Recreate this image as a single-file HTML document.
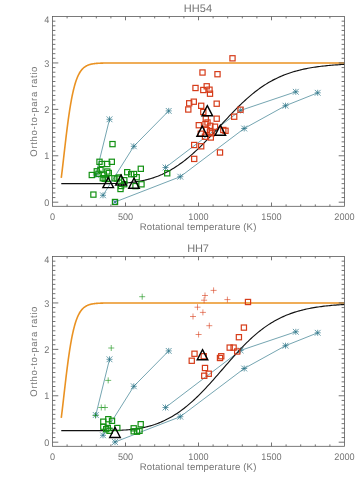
<!DOCTYPE html>
<html><head><meta charset="utf-8"><title>Ortho-to-para ratio</title>
<style>html,body{margin:0;padding:0;background:#fff}svg{display:block}svg{will-change:transform}text{text-rendering:geometricPrecision;font-family:"Liberation Sans",sans-serif;fill:#747474}</style>
</head><body>
<svg width="360" height="480" viewBox="0 0 360 480">
<rect width="360" height="480" fill="#fff"/>
<polyline fill="none" stroke="#ea9222" stroke-width="1.6" stroke-linejoin="round" points="61.26,177.94 61.55,175.61 61.84,173.23 62.14,170.81 62.43,168.35 62.72,165.85 63.01,163.34 63.30,160.80 63.60,158.25 63.89,155.70 64.18,153.14 64.47,150.59 64.76,148.05 65.06,145.53 65.35,143.02 65.64,140.54 65.93,138.08 66.22,135.65 66.52,133.25 66.81,130.89 67.10,128.57 67.39,126.29 67.68,124.06 67.98,121.86 68.27,119.72 68.56,117.62 68.85,115.57 69.14,113.57 69.44,111.63 69.73,109.73 70.02,107.89 70.31,106.10 70.60,104.36 70.90,102.67 71.19,101.04 71.48,99.45 71.77,97.92 72.06,96.44 72.36,95.01 72.65,93.63 72.94,92.30 73.23,91.01 73.52,89.78 73.82,88.59 74.11,87.44 74.40,86.34 74.69,85.28 74.98,84.26 75.28,83.29 75.57,82.35 75.86,81.45 76.15,80.59 76.44,79.76 76.74,78.97 77.03,78.22 77.32,77.49 77.61,76.80 77.90,76.14 78.20,75.50 78.49,74.90 78.78,74.32 79.07,73.77 79.36,73.24 79.66,72.74 79.95,72.26 80.24,71.80 80.53,71.36 80.82,70.95 81.12,70.55 81.41,70.17 81.70,69.81 81.99,69.47 82.28,69.14 82.58,68.83 82.87,68.54 83.16,68.26 83.45,67.99 83.74,67.73 84.04,67.49 84.33,67.26 84.62,67.04 84.91,66.83 85.20,66.63 85.50,66.44 85.79,66.27 86.08,66.10 86.37,65.93 86.66,65.78 86.96,65.63 87.25,65.50 87.54,65.36 87.83,65.24 88.12,65.12 88.42,65.01 88.71,64.90 89.00,64.80 89.29,64.70 89.58,64.61 89.88,64.52 90.17,64.44 90.46,64.36 90.75,64.29 91.04,64.22 91.34,64.15 91.63,64.09 91.92,64.03 92.21,63.97 92.50,63.92 92.80,63.87 93.09,63.82 93.38,63.77 93.67,63.73 93.96,63.69 94.26,63.65 94.55,63.61 94.84,63.58 95.13,63.54 95.42,63.51 95.72,63.48 96.01,63.45 96.30,63.42 96.59,63.40 96.88,63.37 97.18,63.35 97.47,63.33 97.76,63.31 98.05,63.29 98.34,63.27 98.64,63.25 98.93,63.24 99.22,63.22 99.51,63.21 99.80,63.19 100.10,63.18 100.39,63.17 100.68,63.15 100.97,63.14 101.26,63.13 101.56,63.12 101.85,63.11 102.14,63.10 102.43,63.09 102.72,63.09 103.02,63.08 103.31,63.07 103.60,63.06 103.89,63.06 104.18,63.05 104.48,63.05 104.77,63.04 105.06,63.03 105.35,63.03 105.64,63.02 105.94,63.02 106.23,63.02 106.52,63.01 106.81,63.01 107.10,63.00 107.40,63.00 107.69,63.00 107.98,62.99 108.27,62.99 108.56,62.99 108.86,62.99 109.15,62.98 109.44,62.98 109.73,62.98 110.02,62.98 110.32,62.97 110.61,62.97 110.90,62.97 113.82,62.96 116.74,62.95 119.66,62.95 122.58,62.94 125.50,62.94 128.42,62.94 131.34,62.94 134.26,62.94 137.18,62.94 140.10,62.94 143.02,62.94 145.94,62.94 148.86,62.94 151.78,62.94 154.70,62.94 157.62,62.94 160.54,62.94 163.46,62.94 166.38,62.94 169.30,62.94 172.22,62.94 175.14,62.94 178.06,62.94 180.98,62.94 183.90,62.94 186.82,62.94 189.74,62.94 192.66,62.94 195.58,62.94 198.50,62.94 201.42,62.94 204.34,62.94 207.26,62.94 210.18,62.94 213.10,62.94 216.02,62.94 218.94,62.94 221.86,62.94 224.78,62.94 227.70,62.94 230.62,62.94 233.54,62.94 236.46,62.94 239.38,62.94 242.30,62.94 245.22,62.94 248.14,62.94 251.06,62.94 253.98,62.94 256.90,62.94 259.82,62.94 262.74,62.94 265.66,62.94 268.58,62.94 271.50,62.94 274.42,62.94 277.34,62.94 280.26,62.94 283.18,62.94 286.10,62.94 289.02,62.94 291.94,62.94 294.86,62.94 297.78,62.94 300.70,62.94 303.62,62.94 306.54,62.94 309.46,62.94 312.38,62.94 315.30,62.94 318.22,62.94 321.14,62.94 324.06,62.94 326.98,62.94 329.90,62.94 332.82,62.94 335.74,62.94 338.66,62.94 341.58,62.94 344.50,62.94 344.50,62.94"/>
<polyline fill="none" stroke="#2a7486" stroke-width="0.65" points="95.80,175.00 109.50,119.30"/>
<polyline fill="none" stroke="#2a7486" stroke-width="0.65" points="103.00,195.30 133.80,146.30"/>
<polyline fill="none" stroke="#2a7486" stroke-width="0.65" points="133.80,146.30 168.70,110.90"/>
<polyline fill="none" stroke="#2a7486" stroke-width="0.65" points="115.00,202.00 180.30,176.70"/>
<polyline fill="none" stroke="#2a7486" stroke-width="0.65" points="180.30,176.70 244.20,128.50"/>
<polyline fill="none" stroke="#2a7486" stroke-width="0.65" points="244.20,128.50 285.50,105.70"/>
<polyline fill="none" stroke="#2a7486" stroke-width="0.65" points="285.50,105.70 317.70,92.80"/>
<polyline fill="none" stroke="#2a7486" stroke-width="0.65" points="165.50,167.50 240.60,110.40"/>
<polyline fill="none" stroke="#2a7486" stroke-width="0.65" points="240.60,110.40 295.80,91.80"/>
<path stroke="#2a7486" stroke-width="0.7" fill="none" d="M92.80 175.00H98.80M95.80 172.00V178.00M92.90 172.10L98.70 177.90M92.90 177.90L98.70 172.10"/>
<path stroke="#2a7486" stroke-width="0.7" fill="none" d="M100.00 195.30H106.00M103.00 192.30V198.30M100.10 192.40L105.90 198.20M100.10 198.20L105.90 192.40"/>
<path stroke="#2a7486" stroke-width="0.7" fill="none" d="M106.50 119.30H112.50M109.50 116.30V122.30M106.60 116.40L112.40 122.20M106.60 122.20L112.40 116.40"/>
<path stroke="#2a7486" stroke-width="0.7" fill="none" d="M112.00 202.00H118.00M115.00 199.00V205.00M112.10 199.10L117.90 204.90M112.10 204.90L117.90 199.10"/>
<path stroke="#2a7486" stroke-width="0.7" fill="none" d="M130.80 146.30H136.80M133.80 143.30V149.30M130.90 143.40L136.70 149.20M130.90 149.20L136.70 143.40"/>
<path stroke="#2a7486" stroke-width="0.7" fill="none" d="M162.50 167.50H168.50M165.50 164.50V170.50M162.60 164.60L168.40 170.40M162.60 170.40L168.40 164.60"/>
<path stroke="#2a7486" stroke-width="0.7" fill="none" d="M165.70 110.90H171.70M168.70 107.90V113.90M165.80 108.00L171.60 113.80M165.80 113.80L171.60 108.00"/>
<path stroke="#2a7486" stroke-width="0.7" fill="none" d="M177.30 176.70H183.30M180.30 173.70V179.70M177.40 173.80L183.20 179.60M177.40 179.60L183.20 173.80"/>
<path stroke="#2a7486" stroke-width="0.7" fill="none" d="M237.60 110.40H243.60M240.60 107.40V113.40M237.70 107.50L243.50 113.30M237.70 113.30L243.50 107.50"/>
<path stroke="#2a7486" stroke-width="0.7" fill="none" d="M241.20 128.50H247.20M244.20 125.50V131.50M241.30 125.60L247.10 131.40M241.30 131.40L247.10 125.60"/>
<path stroke="#2a7486" stroke-width="0.7" fill="none" d="M282.50 105.70H288.50M285.50 102.70V108.70M282.60 102.80L288.40 108.60M282.60 108.60L288.40 102.80"/>
<path stroke="#2a7486" stroke-width="0.7" fill="none" d="M292.80 91.80H298.80M295.80 88.80V94.80M292.90 88.90L298.70 94.70M292.90 94.70L298.70 88.90"/>
<path stroke="#2a7486" stroke-width="0.7" fill="none" d="M314.70 92.80H320.70M317.70 89.80V95.80M314.80 89.90L320.60 95.70M314.80 95.70L320.60 89.90"/>
<polyline fill="none" stroke="#111" stroke-width="1.15" stroke-linejoin="round" points="61.26,183.63 62.72,183.63 64.18,183.63 65.64,183.63 67.10,183.63 68.56,183.63 70.02,183.63 71.48,183.63 72.94,183.63 74.40,183.63 75.86,183.63 77.32,183.63 78.78,183.63 80.24,183.63 81.70,183.63 83.16,183.63 84.62,183.63 86.08,183.63 87.54,183.63 89.00,183.63 90.46,183.63 91.92,183.63 93.38,183.63 94.84,183.63 96.30,183.63 97.76,183.63 99.22,183.62 100.68,183.62 102.14,183.62 103.60,183.61 105.06,183.60 106.52,183.59 107.98,183.58 109.44,183.56 110.90,183.54 112.36,183.51 113.82,183.48 115.28,183.45 116.74,183.40 118.20,183.35 119.66,183.29 121.12,183.23 122.58,183.15 124.04,183.06 125.50,182.97 126.96,182.86 128.42,182.73 129.88,182.59 131.34,182.44 132.80,182.27 134.26,182.09 135.72,181.89 137.18,181.67 138.64,181.43 140.10,181.17 141.56,180.89 143.02,180.59 144.48,180.27 145.94,179.93 147.40,179.56 148.86,179.16 150.32,178.74 151.78,178.30 153.24,177.83 154.70,177.33 156.16,176.81 157.62,176.26 159.08,175.67 160.54,175.06 162.00,174.43 163.46,173.76 164.92,173.06 166.38,172.33 167.84,171.57 169.30,170.77 170.76,169.95 172.22,169.10 173.68,168.21 175.14,167.29 176.60,166.34 178.06,165.36 179.52,164.34 180.98,163.30 182.44,162.22 183.90,161.12 185.36,159.98 186.82,158.81 188.28,157.61 189.74,156.39 191.20,155.13 192.66,153.85 194.12,152.54 195.58,151.20 197.04,149.84 198.50,148.45 199.96,147.04 201.42,145.61 202.88,144.15 204.34,142.68 205.80,141.19 207.26,139.69 208.72,138.16 210.18,136.63 211.64,135.08 213.10,133.52 214.56,131.96 216.02,130.38 217.48,128.80 218.94,127.22 220.40,125.64 221.86,124.06 223.32,122.48 224.78,120.90 226.24,119.33 227.70,117.77 229.16,116.21 230.62,114.67 232.08,113.14 233.54,111.63 235.00,110.13 236.46,108.65 237.92,107.19 239.38,105.75 240.84,104.33 242.30,102.93 243.76,101.56 245.22,100.21 246.68,98.89 248.14,97.60 249.60,96.33 251.06,95.09 252.52,93.89 253.98,92.71 255.44,91.56 256.90,90.44 258.36,89.35 259.82,88.29 261.28,87.26 262.74,86.27 264.20,85.30 265.66,84.36 267.12,83.46 268.58,82.58 270.04,81.73 271.50,80.92 272.96,80.13 274.42,79.37 275.88,78.64 277.34,77.93 278.80,77.25 280.26,76.60 281.72,75.97 283.18,75.37 284.64,74.80 286.10,74.24 287.56,73.71 289.02,73.20 290.48,72.71 291.94,72.25 293.40,71.80 294.86,71.37 296.32,70.96 297.78,70.57 299.24,70.20 300.70,69.85 302.16,69.51 303.62,69.18 305.08,68.87 306.54,68.58 308.00,68.30 309.46,68.03 310.92,67.78 312.38,67.53 313.84,67.30 315.30,67.08 316.76,66.87 318.22,66.67 319.68,66.48 321.14,66.30 322.60,66.13 324.06,65.97 325.52,65.82 326.98,65.67 328.44,65.53 329.90,65.40 331.36,65.27 332.82,65.15 334.28,65.04 335.74,64.93 337.20,64.83 338.66,64.73 340.12,64.64 341.58,64.55 343.04,64.47 344.50,64.39 344.50,64.39"/>
<rect x="109.90" y="141.50" width="5.2" height="5.2" fill="none" stroke="#139113" stroke-width="1.2"/>
<rect x="96.90" y="159.20" width="5.2" height="5.2" fill="none" stroke="#139113" stroke-width="1.2"/>
<rect x="109.20" y="159.20" width="5.2" height="5.2" fill="none" stroke="#139113" stroke-width="1.2"/>
<rect x="99.20" y="161.40" width="5.2" height="5.2" fill="none" stroke="#139113" stroke-width="1.2"/>
<rect x="104.60" y="161.40" width="5.2" height="5.2" fill="none" stroke="#139113" stroke-width="1.2"/>
<rect x="138.20" y="166.20" width="5.2" height="5.2" fill="none" stroke="#139113" stroke-width="1.2"/>
<rect x="89.20" y="172.40" width="5.2" height="5.2" fill="none" stroke="#139113" stroke-width="1.2"/>
<rect x="90.80" y="192.00" width="5.2" height="5.2" fill="none" stroke="#139113" stroke-width="1.2"/>
<rect x="112.40" y="199.40" width="5.2" height="5.2" fill="none" stroke="#139113" stroke-width="1.2"/>
<rect x="94.20" y="168.70" width="5.2" height="5.2" fill="none" stroke="#139113" stroke-width="1.2"/>
<rect x="97.90" y="167.40" width="5.2" height="5.2" fill="none" stroke="#139113" stroke-width="1.2"/>
<rect x="104.70" y="168.90" width="5.2" height="5.2" fill="none" stroke="#139113" stroke-width="1.2"/>
<rect x="106.20" y="170.40" width="5.2" height="5.2" fill="none" stroke="#139113" stroke-width="1.2"/>
<rect x="95.80" y="171.20" width="5.2" height="5.2" fill="none" stroke="#139113" stroke-width="1.2"/>
<rect x="101.20" y="172.00" width="5.2" height="5.2" fill="none" stroke="#139113" stroke-width="1.2"/>
<rect x="102.10" y="176.20" width="5.2" height="5.2" fill="none" stroke="#139113" stroke-width="1.2"/>
<rect x="111.90" y="175.70" width="5.2" height="5.2" fill="none" stroke="#139113" stroke-width="1.2"/>
<rect x="116.20" y="174.90" width="5.2" height="5.2" fill="none" stroke="#139113" stroke-width="1.2"/>
<rect x="121.70" y="177.60" width="5.2" height="5.2" fill="none" stroke="#139113" stroke-width="1.2"/>
<rect x="124.60" y="169.60" width="5.2" height="5.2" fill="none" stroke="#139113" stroke-width="1.2"/>
<rect x="128.60" y="171.60" width="5.2" height="5.2" fill="none" stroke="#139113" stroke-width="1.2"/>
<rect x="131.40" y="171.40" width="5.2" height="5.2" fill="none" stroke="#139113" stroke-width="1.2"/>
<rect x="134.10" y="174.60" width="5.2" height="5.2" fill="none" stroke="#139113" stroke-width="1.2"/>
<rect x="138.90" y="181.70" width="5.2" height="5.2" fill="none" stroke="#139113" stroke-width="1.2"/>
<rect x="132.90" y="183.50" width="5.2" height="5.2" fill="none" stroke="#139113" stroke-width="1.2"/>
<rect x="118.50" y="183.40" width="5.2" height="5.2" fill="none" stroke="#139113" stroke-width="1.2"/>
<rect x="117.90" y="186.40" width="5.2" height="5.2" fill="none" stroke="#139113" stroke-width="1.2"/>
<rect x="164.60" y="170.70" width="5.2" height="5.2" fill="none" stroke="#139113" stroke-width="1.2"/>
<rect x="100.20" y="175.60" width="5.2" height="5.2" fill="none" stroke="#139113" stroke-width="1.2"/>
<rect x="104.00" y="176.40" width="5.2" height="5.2" fill="none" stroke="#139113" stroke-width="1.2"/>
<rect x="121.60" y="181.60" width="5.2" height="5.2" fill="none" stroke="#139113" stroke-width="1.2"/>
<rect x="114.20" y="176.00" width="5.2" height="5.2" fill="none" stroke="#139113" stroke-width="1.2"/>
<rect x="229.90" y="55.70" width="5.2" height="5.2" fill="none" stroke="#d63c1a" stroke-width="1.2"/>
<rect x="199.90" y="69.90" width="5.2" height="5.2" fill="none" stroke="#d63c1a" stroke-width="1.2"/>
<rect x="214.90" y="71.60" width="5.2" height="5.2" fill="none" stroke="#d63c1a" stroke-width="1.2"/>
<rect x="192.90" y="85.40" width="5.2" height="5.2" fill="none" stroke="#d63c1a" stroke-width="1.2"/>
<rect x="204.10" y="83.70" width="5.2" height="5.2" fill="none" stroke="#d63c1a" stroke-width="1.2"/>
<rect x="200.70" y="87.40" width="5.2" height="5.2" fill="none" stroke="#d63c1a" stroke-width="1.2"/>
<rect x="206.90" y="87.10" width="5.2" height="5.2" fill="none" stroke="#d63c1a" stroke-width="1.2"/>
<rect x="207.40" y="91.10" width="5.2" height="5.2" fill="none" stroke="#d63c1a" stroke-width="1.2"/>
<rect x="186.60" y="100.70" width="5.2" height="5.2" fill="none" stroke="#d63c1a" stroke-width="1.2"/>
<rect x="191.20" y="99.10" width="5.2" height="5.2" fill="none" stroke="#d63c1a" stroke-width="1.2"/>
<rect x="214.10" y="101.10" width="5.2" height="5.2" fill="none" stroke="#d63c1a" stroke-width="1.2"/>
<rect x="198.60" y="103.20" width="5.2" height="5.2" fill="none" stroke="#d63c1a" stroke-width="1.2"/>
<rect x="185.70" y="106.90" width="5.2" height="5.2" fill="none" stroke="#d63c1a" stroke-width="1.2"/>
<rect x="200.70" y="109.40" width="5.2" height="5.2" fill="none" stroke="#d63c1a" stroke-width="1.2"/>
<rect x="203.20" y="116.10" width="5.2" height="5.2" fill="none" stroke="#d63c1a" stroke-width="1.2"/>
<rect x="214.10" y="116.10" width="5.2" height="5.2" fill="none" stroke="#d63c1a" stroke-width="1.2"/>
<rect x="231.60" y="114.10" width="5.2" height="5.2" fill="none" stroke="#d63c1a" stroke-width="1.2"/>
<rect x="237.90" y="107.10" width="5.2" height="5.2" fill="none" stroke="#d63c1a" stroke-width="1.2"/>
<rect x="196.20" y="122.60" width="5.2" height="5.2" fill="none" stroke="#d63c1a" stroke-width="1.2"/>
<rect x="202.90" y="121.60" width="5.2" height="5.2" fill="none" stroke="#d63c1a" stroke-width="1.2"/>
<rect x="204.90" y="119.90" width="5.2" height="5.2" fill="none" stroke="#d63c1a" stroke-width="1.2"/>
<rect x="207.80" y="123.20" width="5.2" height="5.2" fill="none" stroke="#d63c1a" stroke-width="1.2"/>
<rect x="212.40" y="124.10" width="5.2" height="5.2" fill="none" stroke="#d63c1a" stroke-width="1.2"/>
<rect x="220.70" y="127.40" width="5.2" height="5.2" fill="none" stroke="#d63c1a" stroke-width="1.2"/>
<rect x="222.90" y="128.20" width="5.2" height="5.2" fill="none" stroke="#d63c1a" stroke-width="1.2"/>
<rect x="204.10" y="127.40" width="5.2" height="5.2" fill="none" stroke="#d63c1a" stroke-width="1.2"/>
<rect x="207.40" y="129.10" width="5.2" height="5.2" fill="none" stroke="#d63c1a" stroke-width="1.2"/>
<rect x="198.20" y="131.10" width="5.2" height="5.2" fill="none" stroke="#d63c1a" stroke-width="1.2"/>
<rect x="209.10" y="130.70" width="5.2" height="5.2" fill="none" stroke="#d63c1a" stroke-width="1.2"/>
<rect x="202.40" y="134.10" width="5.2" height="5.2" fill="none" stroke="#d63c1a" stroke-width="1.2"/>
<rect x="208.20" y="134.90" width="5.2" height="5.2" fill="none" stroke="#d63c1a" stroke-width="1.2"/>
<rect x="191.60" y="142.40" width="5.2" height="5.2" fill="none" stroke="#d63c1a" stroke-width="1.2"/>
<rect x="198.60" y="143.70" width="5.2" height="5.2" fill="none" stroke="#d63c1a" stroke-width="1.2"/>
<rect x="217.40" y="149.90" width="5.2" height="5.2" fill="none" stroke="#d63c1a" stroke-width="1.2"/>
<rect x="191.60" y="156.30" width="5.2" height="5.2" fill="none" stroke="#d63c1a" stroke-width="1.2"/>
<path d="M108.20 177.50L113.50 187.60L102.90 187.60Z" fill="none" stroke="#000" stroke-width="1.4" stroke-linejoin="miter"/>
<path d="M121.00 174.90L126.30 185.00L115.70 185.00Z" fill="none" stroke="#000" stroke-width="1.4" stroke-linejoin="miter"/>
<path d="M134.00 178.20L139.30 188.30L128.70 188.30Z" fill="none" stroke="#000" stroke-width="1.4" stroke-linejoin="miter"/>
<path d="M207.30 105.70L212.60 115.80L202.00 115.80Z" fill="none" stroke="#000" stroke-width="1.4" stroke-linejoin="miter"/>
<path d="M202.20 126.10L207.50 136.20L196.90 136.20Z" fill="none" stroke="#000" stroke-width="1.4" stroke-linejoin="miter"/>
<path d="M220.30 125.20L225.60 135.30L215.00 135.30Z" fill="none" stroke="#000" stroke-width="1.4" stroke-linejoin="miter"/>
<path d="M67.10 16.50v1.90M67.10 206.30v-1.90M81.70 16.50v1.90M81.70 206.30v-1.90M96.30 16.50v1.90M96.30 206.30v-1.90M110.90 16.50v1.90M110.90 206.30v-1.90M125.50 16.50v3.80M125.50 206.30v-3.80M140.10 16.50v1.90M140.10 206.30v-1.90M154.70 16.50v1.90M154.70 206.30v-1.90M169.30 16.50v1.90M169.30 206.30v-1.90M183.90 16.50v1.90M183.90 206.30v-1.90M198.50 16.50v3.80M198.50 206.30v-3.80M213.10 16.50v1.90M213.10 206.30v-1.90M227.70 16.50v1.90M227.70 206.30v-1.90M242.30 16.50v1.90M242.30 206.30v-1.90M256.90 16.50v1.90M256.90 206.30v-1.90M271.50 16.50v3.80M271.50 206.30v-3.80M286.10 16.50v1.90M286.10 206.30v-1.90M300.70 16.50v1.90M300.70 206.30v-1.90M315.30 16.50v1.90M315.30 206.30v-1.90M329.90 16.50v1.90M329.90 206.30v-1.90M52.50 202.20h5.80M344.50 202.20h-5.80M52.50 197.56h2.90M344.50 197.56h-2.90M52.50 192.92h2.90M344.50 192.92h-2.90M52.50 188.27h2.90M344.50 188.27h-2.90M52.50 183.63h2.90M344.50 183.63h-2.90M52.50 178.99h2.90M344.50 178.99h-2.90M52.50 174.35h2.90M344.50 174.35h-2.90M52.50 169.71h2.90M344.50 169.71h-2.90M52.50 165.06h2.90M344.50 165.06h-2.90M52.50 160.42h2.90M344.50 160.42h-2.90M52.50 155.78h5.80M344.50 155.78h-5.80M52.50 151.14h2.90M344.50 151.14h-2.90M52.50 146.50h2.90M344.50 146.50h-2.90M52.50 141.85h2.90M344.50 141.85h-2.90M52.50 137.21h2.90M344.50 137.21h-2.90M52.50 132.57h2.90M344.50 132.57h-2.90M52.50 127.93h2.90M344.50 127.93h-2.90M52.50 123.29h2.90M344.50 123.29h-2.90M52.50 118.64h2.90M344.50 118.64h-2.90M52.50 114.00h2.90M344.50 114.00h-2.90M52.50 109.36h5.80M344.50 109.36h-5.80M52.50 104.72h2.90M344.50 104.72h-2.90M52.50 100.08h2.90M344.50 100.08h-2.90M52.50 95.43h2.90M344.50 95.43h-2.90M52.50 90.79h2.90M344.50 90.79h-2.90M52.50 86.15h2.90M344.50 86.15h-2.90M52.50 81.51h2.90M344.50 81.51h-2.90M52.50 76.87h2.90M344.50 76.87h-2.90M52.50 72.22h2.90M344.50 72.22h-2.90M52.50 67.58h2.90M344.50 67.58h-2.90M52.50 62.94h5.80M344.50 62.94h-5.80M52.50 58.30h2.90M344.50 58.30h-2.90M52.50 53.66h2.90M344.50 53.66h-2.90M52.50 49.01h2.90M344.50 49.01h-2.90M52.50 44.37h2.90M344.50 44.37h-2.90M52.50 39.73h2.90M344.50 39.73h-2.90M52.50 35.09h2.90M344.50 35.09h-2.90M52.50 30.45h2.90M344.50 30.45h-2.90M52.50 25.80h2.90M344.50 25.80h-2.90M52.50 21.16h2.90M344.50 21.16h-2.90" stroke="#505050" stroke-width="0.8" fill="none"/>
<rect x="52.50" y="16.50" width="292.00" height="189.80" fill="none" stroke="#5a5a5a" stroke-width="0.8"/>
<text x="198" y="12.0" font-size="11" text-anchor="middle" textLength="28.4" lengthAdjust="spacing">HH54</text>
<text transform="translate(52.5 219.7) scale(0.96 1)" font-size="9.5" text-anchor="middle">0</text>
<text transform="translate(125.5 219.7) scale(0.96 1)" font-size="9.5" text-anchor="middle">500</text>
<text transform="translate(198.5 219.7) scale(0.96 1)" font-size="9.5" text-anchor="middle">1000</text>
<text transform="translate(271.5 219.7) scale(0.96 1)" font-size="9.5" text-anchor="middle">1500</text>
<text transform="translate(344.5 219.7) scale(0.96 1)" font-size="9.5" text-anchor="middle">2000</text>
<text transform="translate(49.4 205.8) scale(0.96 1)" font-size="9.5" text-anchor="end">0</text>
<text transform="translate(49.4 159.4) scale(0.96 1)" font-size="9.5" text-anchor="end">1</text>
<text transform="translate(49.4 113.0) scale(0.96 1)" font-size="9.5" text-anchor="end">2</text>
<text transform="translate(49.4 66.5) scale(0.96 1)" font-size="9.5" text-anchor="end">3</text>
<text transform="translate(49.4 23.4) scale(0.96 1)" font-size="9.5" text-anchor="end">4</text>
<text x="198" y="230.2" font-size="9.6" text-anchor="middle" textLength="116.7" lengthAdjust="spacing">Rotational temperature (K)</text>
<text transform="translate(36.7 111.7) rotate(-90)" font-size="9.6" text-anchor="middle" textLength="90" lengthAdjust="spacing">Ortho-to-para ratio</text>
<polyline fill="none" stroke="#ea9222" stroke-width="1.6" stroke-linejoin="round" points="61.26,417.94 61.55,415.61 61.84,413.23 62.14,410.81 62.43,408.35 62.72,405.85 63.01,403.34 63.30,400.80 63.60,398.25 63.89,395.70 64.18,393.14 64.47,390.59 64.76,388.05 65.06,385.53 65.35,383.02 65.64,380.54 65.93,378.08 66.22,375.65 66.52,373.25 66.81,370.89 67.10,368.57 67.39,366.29 67.68,364.06 67.98,361.86 68.27,359.72 68.56,357.62 68.85,355.57 69.14,353.57 69.44,351.63 69.73,349.73 70.02,347.89 70.31,346.10 70.60,344.36 70.90,342.67 71.19,341.04 71.48,339.45 71.77,337.92 72.06,336.44 72.36,335.01 72.65,333.63 72.94,332.30 73.23,331.01 73.52,329.78 73.82,328.59 74.11,327.44 74.40,326.34 74.69,325.28 74.98,324.26 75.28,323.29 75.57,322.35 75.86,321.45 76.15,320.59 76.44,319.76 76.74,318.97 77.03,318.22 77.32,317.49 77.61,316.80 77.90,316.14 78.20,315.50 78.49,314.90 78.78,314.32 79.07,313.77 79.36,313.24 79.66,312.74 79.95,312.26 80.24,311.80 80.53,311.36 80.82,310.95 81.12,310.55 81.41,310.17 81.70,309.81 81.99,309.47 82.28,309.14 82.58,308.83 82.87,308.54 83.16,308.26 83.45,307.99 83.74,307.73 84.04,307.49 84.33,307.26 84.62,307.04 84.91,306.83 85.20,306.63 85.50,306.44 85.79,306.27 86.08,306.10 86.37,305.93 86.66,305.78 86.96,305.63 87.25,305.50 87.54,305.36 87.83,305.24 88.12,305.12 88.42,305.01 88.71,304.90 89.00,304.80 89.29,304.70 89.58,304.61 89.88,304.52 90.17,304.44 90.46,304.36 90.75,304.29 91.04,304.22 91.34,304.15 91.63,304.09 91.92,304.03 92.21,303.97 92.50,303.92 92.80,303.87 93.09,303.82 93.38,303.77 93.67,303.73 93.96,303.69 94.26,303.65 94.55,303.61 94.84,303.58 95.13,303.54 95.42,303.51 95.72,303.48 96.01,303.45 96.30,303.42 96.59,303.40 96.88,303.37 97.18,303.35 97.47,303.33 97.76,303.31 98.05,303.29 98.34,303.27 98.64,303.25 98.93,303.24 99.22,303.22 99.51,303.21 99.80,303.19 100.10,303.18 100.39,303.17 100.68,303.15 100.97,303.14 101.26,303.13 101.56,303.12 101.85,303.11 102.14,303.10 102.43,303.09 102.72,303.09 103.02,303.08 103.31,303.07 103.60,303.06 103.89,303.06 104.18,303.05 104.48,303.05 104.77,303.04 105.06,303.03 105.35,303.03 105.64,303.02 105.94,303.02 106.23,303.02 106.52,303.01 106.81,303.01 107.10,303.00 107.40,303.00 107.69,303.00 107.98,302.99 108.27,302.99 108.56,302.99 108.86,302.99 109.15,302.98 109.44,302.98 109.73,302.98 110.02,302.98 110.32,302.97 110.61,302.97 110.90,302.97 113.82,302.96 116.74,302.95 119.66,302.95 122.58,302.94 125.50,302.94 128.42,302.94 131.34,302.94 134.26,302.94 137.18,302.94 140.10,302.94 143.02,302.94 145.94,302.94 148.86,302.94 151.78,302.94 154.70,302.94 157.62,302.94 160.54,302.94 163.46,302.94 166.38,302.94 169.30,302.94 172.22,302.94 175.14,302.94 178.06,302.94 180.98,302.94 183.90,302.94 186.82,302.94 189.74,302.94 192.66,302.94 195.58,302.94 198.50,302.94 201.42,302.94 204.34,302.94 207.26,302.94 210.18,302.94 213.10,302.94 216.02,302.94 218.94,302.94 221.86,302.94 224.78,302.94 227.70,302.94 230.62,302.94 233.54,302.94 236.46,302.94 239.38,302.94 242.30,302.94 245.22,302.94 248.14,302.94 251.06,302.94 253.98,302.94 256.90,302.94 259.82,302.94 262.74,302.94 265.66,302.94 268.58,302.94 271.50,302.94 274.42,302.94 277.34,302.94 280.26,302.94 283.18,302.94 286.10,302.94 289.02,302.94 291.94,302.94 294.86,302.94 297.78,302.94 300.70,302.94 303.62,302.94 306.54,302.94 309.46,302.94 312.38,302.94 315.30,302.94 318.22,302.94 321.14,302.94 324.06,302.94 326.98,302.94 329.90,302.94 332.82,302.94 335.74,302.94 338.66,302.94 341.58,302.94 344.50,302.94 344.50,302.94"/>
<polyline fill="none" stroke="#2a7486" stroke-width="0.65" points="95.80,415.00 109.50,359.30"/>
<polyline fill="none" stroke="#2a7486" stroke-width="0.65" points="103.00,435.30 133.80,386.30"/>
<polyline fill="none" stroke="#2a7486" stroke-width="0.65" points="133.80,386.30 168.70,350.90"/>
<polyline fill="none" stroke="#2a7486" stroke-width="0.65" points="115.00,442.00 180.30,416.70"/>
<polyline fill="none" stroke="#2a7486" stroke-width="0.65" points="180.30,416.70 244.20,368.50"/>
<polyline fill="none" stroke="#2a7486" stroke-width="0.65" points="244.20,368.50 285.50,345.70"/>
<polyline fill="none" stroke="#2a7486" stroke-width="0.65" points="285.50,345.70 317.70,332.80"/>
<polyline fill="none" stroke="#2a7486" stroke-width="0.65" points="165.50,407.50 240.60,350.40"/>
<polyline fill="none" stroke="#2a7486" stroke-width="0.65" points="240.60,350.40 295.80,331.80"/>
<path stroke="#2a7486" stroke-width="0.7" fill="none" d="M92.80 415.00H98.80M95.80 412.00V418.00M92.90 412.10L98.70 417.90M92.90 417.90L98.70 412.10"/>
<path stroke="#2a7486" stroke-width="0.7" fill="none" d="M100.00 435.30H106.00M103.00 432.30V438.30M100.10 432.40L105.90 438.20M100.10 438.20L105.90 432.40"/>
<path stroke="#2a7486" stroke-width="0.7" fill="none" d="M106.50 359.30H112.50M109.50 356.30V362.30M106.60 356.40L112.40 362.20M106.60 362.20L112.40 356.40"/>
<path stroke="#2a7486" stroke-width="0.7" fill="none" d="M112.00 442.00H118.00M115.00 439.00V445.00M112.10 439.10L117.90 444.90M112.10 444.90L117.90 439.10"/>
<path stroke="#2a7486" stroke-width="0.7" fill="none" d="M130.80 386.30H136.80M133.80 383.30V389.30M130.90 383.40L136.70 389.20M130.90 389.20L136.70 383.40"/>
<path stroke="#2a7486" stroke-width="0.7" fill="none" d="M162.50 407.50H168.50M165.50 404.50V410.50M162.60 404.60L168.40 410.40M162.60 410.40L168.40 404.60"/>
<path stroke="#2a7486" stroke-width="0.7" fill="none" d="M165.70 350.90H171.70M168.70 347.90V353.90M165.80 348.00L171.60 353.80M165.80 353.80L171.60 348.00"/>
<path stroke="#2a7486" stroke-width="0.7" fill="none" d="M177.30 416.70H183.30M180.30 413.70V419.70M177.40 413.80L183.20 419.60M177.40 419.60L183.20 413.80"/>
<path stroke="#2a7486" stroke-width="0.7" fill="none" d="M237.60 350.40H243.60M240.60 347.40V353.40M237.70 347.50L243.50 353.30M237.70 353.30L243.50 347.50"/>
<path stroke="#2a7486" stroke-width="0.7" fill="none" d="M241.20 368.50H247.20M244.20 365.50V371.50M241.30 365.60L247.10 371.40M241.30 371.40L247.10 365.60"/>
<path stroke="#2a7486" stroke-width="0.7" fill="none" d="M282.50 345.70H288.50M285.50 342.70V348.70M282.60 342.80L288.40 348.60M282.60 348.60L288.40 342.80"/>
<path stroke="#2a7486" stroke-width="0.7" fill="none" d="M292.80 331.80H298.80M295.80 328.80V334.80M292.90 328.90L298.70 334.70M292.90 334.70L298.70 328.90"/>
<path stroke="#2a7486" stroke-width="0.7" fill="none" d="M314.70 332.80H320.70M317.70 329.80V335.80M314.80 329.90L320.60 335.70M314.80 335.70L320.60 329.90"/>
<polyline fill="none" stroke="#111" stroke-width="1.15" stroke-linejoin="round" points="61.26,430.60 62.72,430.60 64.18,430.60 65.64,430.60 67.10,430.59 68.56,430.59 70.02,430.59 71.48,430.59 72.94,430.59 74.40,430.59 75.86,430.59 77.32,430.59 78.78,430.59 80.24,430.59 81.70,430.59 83.16,430.59 84.62,430.59 86.08,430.59 87.54,430.59 89.00,430.59 90.46,430.59 91.92,430.59 93.38,430.59 94.84,430.59 96.30,430.59 97.76,430.59 99.22,430.59 100.68,430.58 102.14,430.58 103.60,430.57 105.06,430.56 106.52,430.55 107.98,430.54 109.44,430.52 110.90,430.50 112.36,430.48 113.82,430.45 115.28,430.41 116.74,430.37 118.20,430.33 119.66,430.27 121.12,430.20 122.58,430.13 124.04,430.05 125.50,429.95 126.96,429.85 128.42,429.73 129.88,429.59 131.34,429.45 132.80,429.29 134.26,429.11 135.72,428.91 137.18,428.70 138.64,428.47 140.10,428.22 141.56,427.95 143.02,427.66 144.48,427.34 145.94,427.01 147.40,426.65 148.86,426.27 150.32,425.86 151.78,425.43 153.24,424.97 154.70,424.49 156.16,423.97 157.62,423.43 159.08,422.86 160.54,422.27 162.00,421.64 163.46,420.98 164.92,420.30 166.38,419.58 167.84,418.83 169.30,418.04 170.76,417.23 172.22,416.38 173.68,415.50 175.14,414.59 176.60,413.65 178.06,412.67 179.52,411.66 180.98,410.61 182.44,409.53 183.90,408.42 185.36,407.28 186.82,406.10 188.28,404.89 189.74,403.64 191.20,402.37 192.66,401.07 194.12,399.73 195.58,398.36 197.04,396.97 198.50,395.55 199.96,394.10 201.42,392.62 202.88,391.12 204.34,389.59 205.80,388.05 207.26,386.48 208.72,384.89 210.18,383.29 211.64,381.66 213.10,380.03 214.56,378.38 216.02,376.72 217.48,375.05 218.94,373.37 220.40,371.69 221.86,370.00 223.32,368.31 224.78,366.63 226.24,364.94 227.70,363.26 229.16,361.59 230.62,359.92 232.08,358.27 233.54,356.63 235.00,355.00 236.46,353.39 237.92,351.80 239.38,350.23 240.84,348.68 242.30,347.15 243.76,345.64 245.22,344.16 246.68,342.71 248.14,341.29 249.60,339.89 251.06,338.52 252.52,337.19 253.98,335.88 255.44,334.61 256.90,333.37 258.36,332.16 259.82,330.99 261.28,329.85 262.74,328.74 264.20,327.66 265.66,326.62 267.12,325.61 268.58,324.64 270.04,323.69 271.50,322.78 272.96,321.91 274.42,321.06 275.88,320.24 277.34,319.46 278.80,318.70 280.26,317.97 281.72,317.28 283.18,316.61 284.64,315.96 286.10,315.34 287.56,314.75 289.02,314.19 290.48,313.64 291.94,313.13 293.40,312.63 294.86,312.15 296.32,311.70 297.78,311.27 299.24,310.86 300.70,310.46 302.16,310.09 303.62,309.73 305.08,309.38 306.54,309.06 308.00,308.75 309.46,308.45 310.92,308.17 312.38,307.91 313.84,307.65 315.30,307.41 316.76,307.18 318.22,306.96 319.68,306.75 321.14,306.56 322.60,306.37 324.06,306.19 325.52,306.02 326.98,305.86 328.44,305.71 329.90,305.56 331.36,305.43 332.82,305.30 334.28,305.17 335.74,305.06 337.20,304.94 338.66,304.84 340.12,304.74 341.58,304.64 343.04,304.56 344.50,304.47 344.50,304.47"/>
<path stroke="#139113" stroke-width="0.6" fill="none" d="M139.20 296.70H145.20M142.20 293.70V299.70"/>
<path stroke="#139113" stroke-width="0.6" fill="none" d="M108.25 348.00H114.25M111.25 345.00V351.00"/>
<path stroke="#139113" stroke-width="0.6" fill="none" d="M105.20 380.40H111.20M108.20 377.40V383.40"/>
<path stroke="#139113" stroke-width="0.6" fill="none" d="M98.30 407.50H104.30M101.30 404.50V410.50"/>
<path stroke="#139113" stroke-width="0.6" fill="none" d="M102.00 407.50H108.00M105.00 404.50V410.50"/>
<path stroke="#139113" stroke-width="0.6" fill="none" d="M92.50 415.50H98.50M95.50 412.50V418.50"/>
<path stroke="#d63c1a" stroke-width="0.6" fill="none" d="M210.60 290.40H216.60M213.60 287.40V293.40"/>
<path stroke="#d63c1a" stroke-width="0.6" fill="none" d="M202.00 295.50H208.00M205.00 292.50V298.50"/>
<path stroke="#d63c1a" stroke-width="0.6" fill="none" d="M201.10 300.20H207.10M204.10 297.20V303.20"/>
<path stroke="#d63c1a" stroke-width="0.6" fill="none" d="M224.40 299.60H230.40M227.40 296.60V302.60"/>
<path stroke="#d63c1a" stroke-width="0.6" fill="none" d="M194.50 307.20H200.50M197.50 304.20V310.20"/>
<path stroke="#d63c1a" stroke-width="0.6" fill="none" d="M199.90 312.40H205.90M202.90 309.40V315.40"/>
<path stroke="#d63c1a" stroke-width="0.6" fill="none" d="M190.00 316.50H196.00M193.00 313.50V319.50"/>
<path stroke="#d63c1a" stroke-width="0.6" fill="none" d="M206.30 325.70H212.30M209.30 322.70V328.70"/>
<path stroke="#d63c1a" stroke-width="0.6" fill="none" d="M195.60 334.50H201.60M198.60 331.50V337.50"/>
<rect x="105.70" y="416.60" width="5.2" height="5.2" fill="none" stroke="#139113" stroke-width="1.2"/>
<rect x="109.40" y="418.20" width="5.2" height="5.2" fill="none" stroke="#139113" stroke-width="1.2"/>
<rect x="100.70" y="419.10" width="5.2" height="5.2" fill="none" stroke="#139113" stroke-width="1.2"/>
<rect x="100.70" y="424.10" width="5.2" height="5.2" fill="none" stroke="#139113" stroke-width="1.2"/>
<rect x="105.20" y="425.40" width="5.2" height="5.2" fill="none" stroke="#139113" stroke-width="1.2"/>
<rect x="114.70" y="425.40" width="5.2" height="5.2" fill="none" stroke="#139113" stroke-width="1.2"/>
<rect x="103.60" y="426.60" width="5.2" height="5.2" fill="none" stroke="#139113" stroke-width="1.2"/>
<rect x="106.90" y="428.20" width="5.2" height="5.2" fill="none" stroke="#139113" stroke-width="1.2"/>
<rect x="138.10" y="421.60" width="5.2" height="5.2" fill="none" stroke="#139113" stroke-width="1.2"/>
<rect x="131.10" y="425.70" width="5.2" height="5.2" fill="none" stroke="#139113" stroke-width="1.2"/>
<rect x="131.10" y="428.70" width="5.2" height="5.2" fill="none" stroke="#139113" stroke-width="1.2"/>
<rect x="136.90" y="428.20" width="5.2" height="5.2" fill="none" stroke="#139113" stroke-width="1.2"/>
<rect x="134.40" y="429.10" width="5.2" height="5.2" fill="none" stroke="#139113" stroke-width="1.2"/>
<rect x="245.40" y="299.40" width="5.2" height="5.2" fill="none" stroke="#d63c1a" stroke-width="1.2"/>
<rect x="241.30" y="325.00" width="5.2" height="5.2" fill="none" stroke="#d63c1a" stroke-width="1.2"/>
<rect x="236.30" y="334.60" width="5.2" height="5.2" fill="none" stroke="#d63c1a" stroke-width="1.2"/>
<rect x="227.10" y="345.00" width="5.2" height="5.2" fill="none" stroke="#d63c1a" stroke-width="1.2"/>
<rect x="231.00" y="345.00" width="5.2" height="5.2" fill="none" stroke="#d63c1a" stroke-width="1.2"/>
<rect x="234.60" y="348.90" width="5.2" height="5.2" fill="none" stroke="#d63c1a" stroke-width="1.2"/>
<rect x="191.90" y="351.15" width="5.2" height="5.2" fill="none" stroke="#d63c1a" stroke-width="1.2"/>
<rect x="201.15" y="353.65" width="5.2" height="5.2" fill="none" stroke="#d63c1a" stroke-width="1.2"/>
<rect x="218.65" y="353.65" width="5.2" height="5.2" fill="none" stroke="#d63c1a" stroke-width="1.2"/>
<rect x="217.40" y="355.40" width="5.2" height="5.2" fill="none" stroke="#d63c1a" stroke-width="1.2"/>
<rect x="189.15" y="358.15" width="5.2" height="5.2" fill="none" stroke="#d63c1a" stroke-width="1.2"/>
<rect x="202.40" y="365.40" width="5.2" height="5.2" fill="none" stroke="#d63c1a" stroke-width="1.2"/>
<rect x="206.15" y="371.15" width="5.2" height="5.2" fill="none" stroke="#d63c1a" stroke-width="1.2"/>
<rect x="201.65" y="373.15" width="5.2" height="5.2" fill="none" stroke="#d63c1a" stroke-width="1.2"/>
<path d="M115.00 427.40L120.30 437.50L109.70 437.50Z" fill="none" stroke="#000" stroke-width="1.4" stroke-linejoin="miter"/>
<path d="M202.50 349.70L207.80 359.80L197.20 359.80Z" fill="none" stroke="#000" stroke-width="1.4" stroke-linejoin="miter"/>
<path d="M67.10 256.50v1.90M67.10 446.30v-1.90M81.70 256.50v1.90M81.70 446.30v-1.90M96.30 256.50v1.90M96.30 446.30v-1.90M110.90 256.50v1.90M110.90 446.30v-1.90M125.50 256.50v3.80M125.50 446.30v-3.80M140.10 256.50v1.90M140.10 446.30v-1.90M154.70 256.50v1.90M154.70 446.30v-1.90M169.30 256.50v1.90M169.30 446.30v-1.90M183.90 256.50v1.90M183.90 446.30v-1.90M198.50 256.50v3.80M198.50 446.30v-3.80M213.10 256.50v1.90M213.10 446.30v-1.90M227.70 256.50v1.90M227.70 446.30v-1.90M242.30 256.50v1.90M242.30 446.30v-1.90M256.90 256.50v1.90M256.90 446.30v-1.90M271.50 256.50v3.80M271.50 446.30v-3.80M286.10 256.50v1.90M286.10 446.30v-1.90M300.70 256.50v1.90M300.70 446.30v-1.90M315.30 256.50v1.90M315.30 446.30v-1.90M329.90 256.50v1.90M329.90 446.30v-1.90M52.50 442.20h5.80M344.50 442.20h-5.80M52.50 437.56h2.90M344.50 437.56h-2.90M52.50 432.92h2.90M344.50 432.92h-2.90M52.50 428.27h2.90M344.50 428.27h-2.90M52.50 423.63h2.90M344.50 423.63h-2.90M52.50 418.99h2.90M344.50 418.99h-2.90M52.50 414.35h2.90M344.50 414.35h-2.90M52.50 409.71h2.90M344.50 409.71h-2.90M52.50 405.06h2.90M344.50 405.06h-2.90M52.50 400.42h2.90M344.50 400.42h-2.90M52.50 395.78h5.80M344.50 395.78h-5.80M52.50 391.14h2.90M344.50 391.14h-2.90M52.50 386.50h2.90M344.50 386.50h-2.90M52.50 381.85h2.90M344.50 381.85h-2.90M52.50 377.21h2.90M344.50 377.21h-2.90M52.50 372.57h2.90M344.50 372.57h-2.90M52.50 367.93h2.90M344.50 367.93h-2.90M52.50 363.29h2.90M344.50 363.29h-2.90M52.50 358.64h2.90M344.50 358.64h-2.90M52.50 354.00h2.90M344.50 354.00h-2.90M52.50 349.36h5.80M344.50 349.36h-5.80M52.50 344.72h2.90M344.50 344.72h-2.90M52.50 340.08h2.90M344.50 340.08h-2.90M52.50 335.43h2.90M344.50 335.43h-2.90M52.50 330.79h2.90M344.50 330.79h-2.90M52.50 326.15h2.90M344.50 326.15h-2.90M52.50 321.51h2.90M344.50 321.51h-2.90M52.50 316.87h2.90M344.50 316.87h-2.90M52.50 312.22h2.90M344.50 312.22h-2.90M52.50 307.58h2.90M344.50 307.58h-2.90M52.50 302.94h5.80M344.50 302.94h-5.80M52.50 298.30h2.90M344.50 298.30h-2.90M52.50 293.66h2.90M344.50 293.66h-2.90M52.50 289.01h2.90M344.50 289.01h-2.90M52.50 284.37h2.90M344.50 284.37h-2.90M52.50 279.73h2.90M344.50 279.73h-2.90M52.50 275.09h2.90M344.50 275.09h-2.90M52.50 270.45h2.90M344.50 270.45h-2.90M52.50 265.80h2.90M344.50 265.80h-2.90M52.50 261.16h2.90M344.50 261.16h-2.90" stroke="#505050" stroke-width="0.8" fill="none"/>
<rect x="52.50" y="256.50" width="292.00" height="189.80" fill="none" stroke="#5a5a5a" stroke-width="0.8"/>
<text x="198" y="252.0" font-size="11" text-anchor="middle" textLength="21.5" lengthAdjust="spacing">HH7</text>
<text transform="translate(52.5 459.7) scale(0.96 1)" font-size="9.5" text-anchor="middle">0</text>
<text transform="translate(125.5 459.7) scale(0.96 1)" font-size="9.5" text-anchor="middle">500</text>
<text transform="translate(198.5 459.7) scale(0.96 1)" font-size="9.5" text-anchor="middle">1000</text>
<text transform="translate(271.5 459.7) scale(0.96 1)" font-size="9.5" text-anchor="middle">1500</text>
<text transform="translate(344.5 459.7) scale(0.96 1)" font-size="9.5" text-anchor="middle">2000</text>
<text transform="translate(49.4 445.8) scale(0.96 1)" font-size="9.5" text-anchor="end">0</text>
<text transform="translate(49.4 399.4) scale(0.96 1)" font-size="9.5" text-anchor="end">1</text>
<text transform="translate(49.4 353.0) scale(0.96 1)" font-size="9.5" text-anchor="end">2</text>
<text transform="translate(49.4 306.5) scale(0.96 1)" font-size="9.5" text-anchor="end">3</text>
<text transform="translate(49.4 263.4) scale(0.96 1)" font-size="9.5" text-anchor="end">4</text>
<text x="198" y="470.2" font-size="9.6" text-anchor="middle" textLength="116.7" lengthAdjust="spacing">Rotational temperature (K)</text>
<text transform="translate(36.7 351.7) rotate(-90)" font-size="9.6" text-anchor="middle" textLength="90" lengthAdjust="spacing">Ortho-to-para ratio</text>
</svg>
</body></html>
